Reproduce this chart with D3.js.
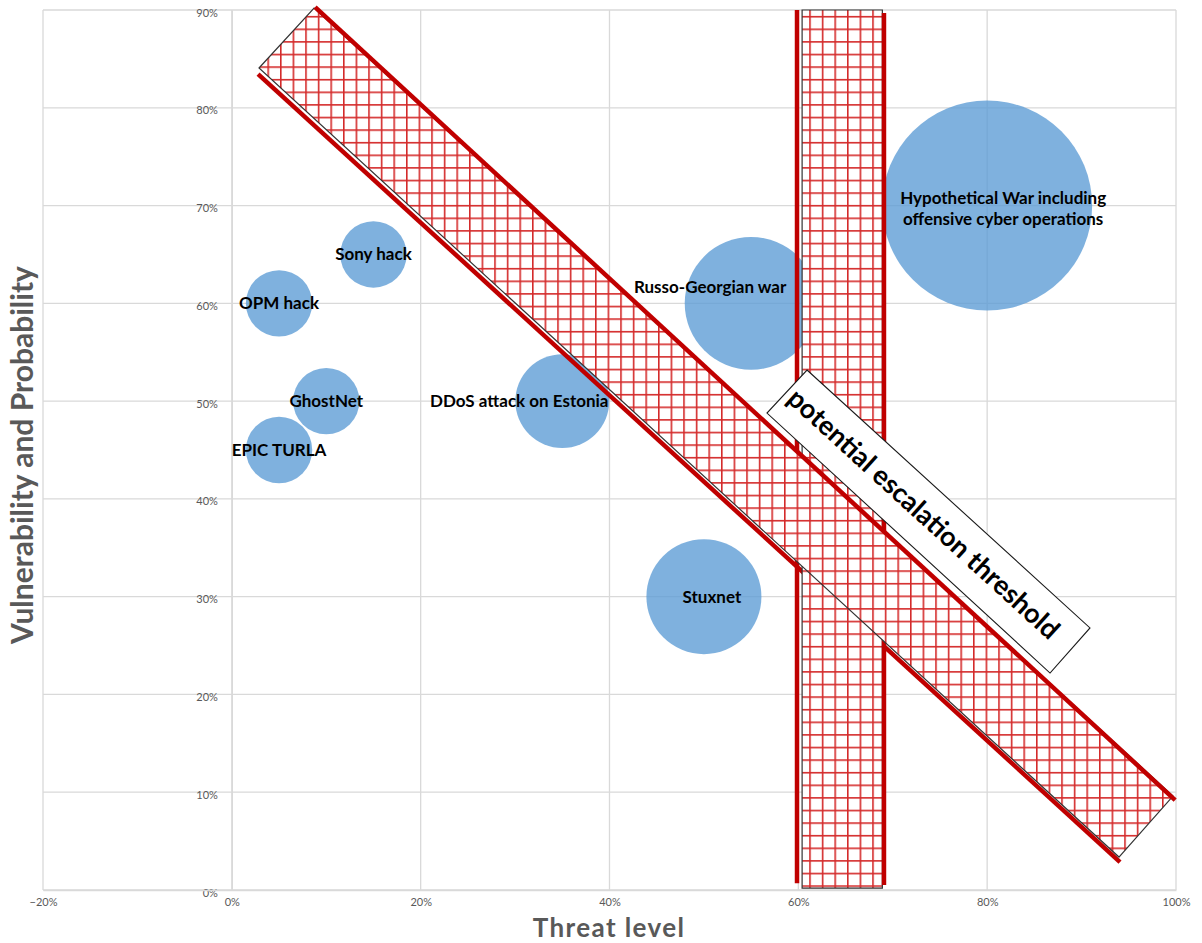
<!DOCTYPE html>
<html>
<head>
<meta charset="utf-8">
<script src="https://cdn.jsdelivr.net/npm/d3@7"></script>
<style>
  html, body { margin: 0; padding: 0; background: #ffffff; }
  svg { display: block; }
</style>
</head>
<body>
<svg id="chart" width="1202" height="943"></svg>
<script>
// Axis ticks
const xTicks = [-0.2, 0, 0.2, 0.4, 0.6, 0.8, 1.0];
const yTicks = [0, 0.1, 0.2, 0.3, 0.4, 0.5, 0.6, 0.7, 0.8, 0.9];

// Cyber incidents: threat level (x), vulnerability & probability (y), severity (bubble size)
const events = ["OPM hack", "EPIC TURLA", "GhostNet", "Sony hack", "DDoS attack on Estonia",
                "Russo-Georgian war", "Stuxnet", "Hypothetical War including offensive cyber operations"];
const threat = [0.05, 0.05, 0.10, 0.15, 0.35, 0.55, 0.50, 0.80];
const vulnerability = [0.60, 0.45, 0.50, 0.65, 0.50, 0.60, 0.30, 0.70];
const severity = [1, 1, 1, 1, 2, 4, 3, 10];
const labelLines = [["OPM hack"], ["EPIC TURLA"], ["GhostNet"], ["Sony hack"], ["DDoS attack on Estonia"],
                    ["Russo-Georgian war"], ["Stuxnet"], ["Hypothetical War including", "offensive cyber operations"]];

// Threshold bands (threat, vulnerability)
const verticalBand = [[0.604, 0.002], [0.689, 0.002], [0.689, 0.9], [0.604, 0.9]];
const verticalEdgeLeft = [[0.5986, 0.9], [0.5986, 0.007]];
const verticalEdgeRight = [[0.6907, 0.897], [0.6907, 0.005]];
const diagonalBand = [[0.0288, 0.8407], [0.0871, 0.902], [0.9968, 0.0961], [0.9396, 0.0337]];
const diagonalEdgeUpper = [[0.0882, 0.903], [0.9991, 0.092]];
const diagonalEdgeLower = [[0.0278, 0.8345], [0.9407, 0.0286]];
const thresholdBox = [[0.6092, 0.5318], [0.9089, 0.2680], [0.8666, 0.2219], [0.5668, 0.4878]];
const thresholdText = "potential escalation threshold";

// Label nudges (pixels) for crowded bubbles
const labelShift = [[0, 0], [0, 0], [0, 0], [0, 0], [-43, 0], [-41, -16], [8, 0], [16, 3]];

const svg = d3.select("#chart");
const x = d3.scaleLinear().domain([-0.2, 1.0]).range([43, 1176]);
const y = d3.scaleLinear().domain([0, 0.9]).range([890, 10]);
const r = d3.scaleSqrt().domain([0, 10]).range([0, 105]);
const pct = d3.format(".0%");

const FONT = "Lato, 'Open Sans', sans-serif";
const GRID = "#d9d9d9";
const TICK_TXT = "#595959";

// Hatch pattern: red square grid on white
const defs = svg.append("defs");
const pat = defs.append("pattern")
  .attr("id", "grid-hatch")
  .attr("patternUnits", "userSpaceOnUse")
  .attr("width", 12.6).attr("height", 12.6)
  .attr("x", 2.8).attr("y", 3.3);
pat.append("rect").attr("width", 12.6).attr("height", 12.6).attr("fill", "#ffffff");
pat.append("line").attr("x1", 0.8).attr("x2", 0.8).attr("y1", 0).attr("y2", 12.6)
  .attr("stroke", "#d42a2a").attr("stroke-width", 1.6);
pat.append("line").attr("x1", 0).attr("x2", 12.6).attr("y1", 0.8).attr("y2", 0.8)
  .attr("stroke", "#d42a2a").attr("stroke-width", 1.6);

// Gridlines
const grid = svg.append("g");
grid.selectAll("line.v").data(xTicks).join("line")
  .attr("x1", d => x(d)).attr("x2", d => x(d))
  .attr("y1", y(0.9)).attr("y2", y(0))
  .attr("stroke", GRID).attr("stroke-width", 1.3);
grid.selectAll("line.h").data(yTicks).join("line")
  .attr("x1", x(-0.2)).attr("x2", x(1.0))
  .attr("y1", d => y(d)).attr("y2", d => y(d))
  .attr("stroke", GRID).attr("stroke-width", 1.3);

// Y axis (crosses at threat 0)
const yAxis = svg.append("g")
  .attr("transform", `translate(${x(0)},0)`)
  .call(d3.axisLeft(y).tickValues(yTicks).tickFormat(pct).tickSize(0).tickPadding(14));
yAxis.select(".domain").attr("stroke", GRID).attr("stroke-width", 1.3);
yAxis.selectAll("text").attr("font-family", FONT).attr("font-size", 11)
  .attr("fill", TICK_TXT).attr("dy", "0.55em");

// X axis labels
const xAxis = svg.append("g")
  .attr("transform", `translate(0,${y(0)})`)
  .call(d3.axisBottom(x).tickValues(xTicks).tickFormat(pct).tickSize(0).tickPadding(8));
xAxis.select(".domain").attr("stroke", GRID).attr("stroke-width", 1.3);
xAxis.selectAll("text").attr("font-family", FONT).attr("font-size", 11).attr("fill", TICK_TXT);

// Bubbles
const bubbles = svg.append("g");
bubbles.selectAll("circle").data(events).join("circle")
  .attr("cx", (d, i) => x(threat[i]))
  .attr("cy", (d, i) => y(vulnerability[i]))
  .attr("r", (d, i) => r(severity[i]))
  .attr("fill", "#5b9bd5").attr("fill-opacity", 0.78);

const labels = svg.append("g")
  .attr("font-family", FONT).attr("font-weight", "bold").attr("font-size", 17)
  .attr("fill", "#000000").attr("text-anchor", "middle");
events.forEach((d, i) => {
  const lines = labelLines[i];
  const t = labels.append("text")
    .attr("x", x(threat[i]) + labelShift[i][0])
    .attr("y", y(vulnerability[i]) + labelShift[i][1]);
  lines.forEach((ln, k) => {
    t.append("tspan")
      .attr("x", x(threat[i]) + labelShift[i][0])
      .attr("dy", k === 0 ? `${0.35 - (lines.length - 1) * 0.6}em` : "1.2em")
      .text(ln);
  });
});

// Threshold bands
const pts = arr => arr.map(p => [x(p[0]), y(p[1])]);
const line = d3.line();
const poly = arr => line(pts(arr)) + "Z";
const RED = "#c00000";

svg.append("path").attr("d", line(pts(diagonalEdgeLower)))
  .attr("stroke", RED).attr("stroke-width", 4.5).attr("fill", "none");

svg.append("path").attr("d", poly(verticalBand))
  .attr("fill", "url(#grid-hatch)").attr("stroke", "#333333").attr("stroke-width", 1.2);
[verticalEdgeLeft, verticalEdgeRight].forEach(e => {
  svg.append("path").attr("d", line(pts(e)))
    .attr("stroke", RED).attr("stroke-width", 4.5).attr("fill", "none");
});

svg.append("path").attr("d", poly(diagonalBand))
  .attr("fill", "url(#grid-hatch)").attr("stroke", "#333333").attr("stroke-width", 1.2);
svg.append("path").attr("d", line(pts(diagonalEdgeUpper)))
  .attr("stroke", RED).attr("stroke-width", 4.5).attr("fill", "none");

// Threshold label box
const boxPx = pts(thresholdBox);
svg.append("path").attr("d", line(boxPx) + "Z")
  .attr("fill", "#ffffff").attr("stroke", "#1a1a1a").attr("stroke-width", 1.1);
const [bx0, by0] = boxPx[0];
const [bx1, by1] = boxPx[1];
const angle = Math.atan2(by1 - by0, bx1 - bx0) * 180 / Math.PI;
svg.append("text")
  .attr("transform", `translate(${bx0},${by0}) rotate(${angle})`)
  .attr("x", 5).attr("y", 37)
  .attr("font-family", FONT).attr("font-weight", "bold").attr("font-size", 27)
  .attr("fill", "#000000")
  .text(thresholdText);

// Axis titles
svg.append("text")
  .attr("x", 609).attr("y", 937)
  .attr("text-anchor", "middle")
  .attr("font-family", FONT).attr("font-weight", "bold").attr("font-size", 26)
  .attr("letter-spacing", 1.4)
  .attr("fill", TICK_TXT).text("Threat level");
svg.append("text")
  .attr("transform", "translate(22,455) rotate(-90)")
  .attr("dy", "0.35em")
  .attr("text-anchor", "middle")
  .attr("font-family", FONT).attr("font-weight", "bold").attr("font-size", 30)
  .attr("fill", TICK_TXT).text("Vulnerability and Probability");
</script>
</body>
</html>
